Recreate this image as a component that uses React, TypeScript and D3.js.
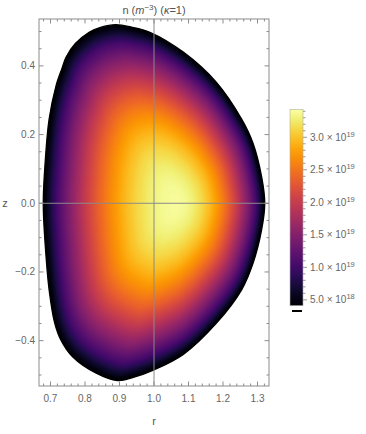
import React, { useRef, useEffect } from "react";
import * as d3 from "d3";

// plasma boundary (r, z), counter-clockwise from outer midplane
const boundaryR = [
  1.321, 1.312, 1.287, 1.254, 1.181, 1.085, 0.988, 0.935, 0.889, 0.845, 0.812,
  0.772, 0.745, 0.733, 0.716, 0.696, 0.685, 0.679, 0.685, 0.696, 0.712, 0.73,
  0.764, 0.831, 0.894, 0.94, 1.0, 1.085, 1.181, 1.254, 1.287, 1.312,
];
const boundaryZ = [
  0, 0.077, 0.175, 0.245, 0.352, 0.44, 0.498, 0.513, 0.52, 0.512, 0.498, 0.465,
  0.425, 0.392, 0.342, 0.245, 0.126, 0, -0.126, -0.252, -0.348, -0.398, -0.447,
  -0.494, -0.516, -0.507, -0.485, -0.44, -0.349, -0.252, -0.175, -0.077,
];

// magnetic axis (peak of density)
const axisR = 1.065;
const axisZ = 0;

// density profile vs normalised radius
const rhoLevels = [0, 0.1, 0.2, 0.3, 0.4, 0.5, 0.6, 0.7, 0.8, 0.9, 0.95, 1.0];
const density = [
  3.4e19, 3.37e19, 3.28e19, 3.13e19, 2.92e19, 2.65e19, 2.33e19, 1.95e19,
  1.52e19, 1.05e19, 0.72e19, 0.41e19,
];

const xTicks = [0.7, 0.8, 0.9, 1.0, 1.1, 1.2, 1.3];
const yTicks = [-0.4, -0.2, 0.0, 0.2, 0.4];
const barTicks = [5.0e18, 1.0e19, 1.5e19, 2.0e19, 2.5e19, 3.0e19];
const barDomain = [4.1e18, 3.43e19];

const FONT = "'Liberation Sans', Arial, sans-serif";

const App = () => {
  const ref = useRef<SVGSVGElement>(null);

  useEffect(() => {
    const svg = d3.select(ref.current);
    svg.selectAll("*").remove();

    const left = 39,
      right = 269,
      top = 19,
      bottom = 386;

    const x = d3.scaleLinear().domain([0.6667, 1.3333]).range([left, right]);
    const y = d3.scaleLinear().domain([-0.532, 0.5365]).range([bottom, top]);
    const nOfRho = d3.scaleLinear().domain(rhoLevels).range(density);
    const color = d3.scaleSequential(d3.interpolateInferno).domain(barDomain);

    const line = d3
      .line<[number, number]>()
      .x((d) => x(d[0]))
      .y((d) => y(d[1]))
      .curve(d3.curveCatmullRomClosed.alpha(0.5));

    const surface = (rho: number) =>
      boundaryR.map(
        (r, i) =>
          [axisR + rho * (r - axisR), axisZ + rho * (boundaryZ[i] - axisZ)] as [
            number,
            number
          ]
      );

    // nested flux surfaces, outer to inner
    const steps = 160;
    const g = svg.append("g");
    for (let k = steps; k >= 1; k--) {
      const rho = k / steps;
      g.append("path")
        .attr("d", line(surface(rho)))
        .attr("fill", color(nOfRho(rho)))
        .attr("stroke", "none");
    }
    g.append("path")
      .attr("d", line(surface(1)))
      .attr("fill", "none")
      .attr("stroke", "#000")
      .attr("stroke-width", 1.3);

    // reference lines
    svg
      .append("line")
      .attr("x1", left)
      .attr("x2", right)
      .attr("y1", y(0))
      .attr("y2", y(0))
      .attr("stroke", "#8a8a8a")
      .attr("stroke-width", 1);
    svg
      .append("line")
      .attr("x1", x(1))
      .attr("x2", x(1))
      .attr("y1", top)
      .attr("y2", bottom)
      .attr("stroke", "#8a8a8a")
      .attr("stroke-width", 1);

    // frame
    const frameColor = "#8c8c8c";
    svg
      .append("rect")
      .attr("x", left)
      .attr("y", top)
      .attr("width", right - left)
      .attr("height", bottom - top)
      .attr("fill", "none")
      .attr("stroke", frameColor)
      .attr("stroke-width", 1);

    const ticks = svg.append("g").attr("stroke", frameColor).attr("stroke-width", 1);
    const xMinor = d3.range(34, 67).map((v) => v * 0.02);
    xMinor.forEach((v) => {
      if (v < 0.667 || v > 1.333) return;
      const major = Math.abs(v * 10 - Math.round(v * 10)) < 1e-6;
      const len = major ? 4.5 : 2.5;
      const px = x(v);
      ticks.append("line").attr("x1", px).attr("x2", px).attr("y1", bottom).attr("y2", bottom - len);
      ticks.append("line").attr("x1", px).attr("x2", px).attr("y1", top).attr("y2", top + len);
    });
    const yMinor = d3.range(-10, 11).map((v) => v * 0.05);
    yMinor.forEach((v) => {
      if (v < -0.532 || v > 0.5365) return;
      const major = Math.abs(v * 5 - Math.round(v * 5)) < 1e-6;
      const len = major ? 4.5 : 2.5;
      const py = y(v);
      ticks.append("line").attr("x1", left).attr("x2", left + len).attr("y1", py).attr("y2", py);
      ticks.append("line").attr("x1", right).attr("x2", right - len).attr("y1", py).attr("y2", py);
    });

    const labelColor = "#666";
    svg
      .append("g")
      .selectAll("text")
      .data(xTicks)
      .enter()
      .append("text")
      .attr("x", (d) => x(d))
      .attr("y", bottom + 16)
      .attr("text-anchor", "middle")
      .attr("font-family", FONT)
      .attr("font-size", 10)
      .attr("fill", labelColor)
      .text((d) => d.toFixed(1));
    svg
      .append("g")
      .selectAll("text")
      .data(yTicks)
      .enter()
      .append("text")
      .attr("x", left - 4)
      .attr("y", (d) => y(d) + 3.5)
      .attr("text-anchor", "end")
      .attr("font-family", FONT)
      .attr("font-size", 10)
      .attr("fill", labelColor)
      .text((d) => (d < 0 ? "\u2212" + Math.abs(d).toFixed(1) : d.toFixed(1)));

    // axis labels
    svg
      .append("text")
      .attr("x", x(1))
      .attr("y", 425)
      .attr("text-anchor", "middle")
      .attr("font-family", FONT)
      .attr("font-size", 11)
      .attr("fill", "#555")
      .text("r");
    svg
      .append("text")
      .attr("x", 5)
      .attr("y", y(0) + 4)
      .attr("text-anchor", "middle")
      .attr("font-family", FONT)
      .attr("font-size", 11)
      .attr("fill", "#555")
      .text("z");

    // title
    const title = svg
      .append("text")
      .attr("x", x(1))
      .attr("y", 14)
      .attr("text-anchor", "middle")
      .attr("font-family", FONT)
      .attr("font-size", 11)
      .attr("fill", "#555");
    title.append("tspan").text("n (");
    title.append("tspan").attr("font-style", "italic").text("m");
    title.append("tspan").attr("font-size", 8).attr("dy", -4).text("\u22123");
    title.append("tspan").attr("dy", 4).text(") (");
    title.append("tspan").attr("font-style", "italic").text("\u03ba");
    title.append("tspan").text("=1)");

    // colour bar
    const bx = 290,
      bw = 13,
      by0 = 109.3,
      by1 = 305.7;
    const yb = d3.scaleLinear().domain(barDomain).range([by1, by0]);
    const defs = svg.append("defs");
    const grad = defs
      .append("linearGradient")
      .attr("id", "cbar")
      .attr("x1", 0)
      .attr("x2", 0)
      .attr("y1", 1)
      .attr("y2", 0);
    d3.range(0, 21).forEach((i) => {
      const t = i / 20;
      grad
        .append("stop")
        .attr("offset", t)
        .attr("stop-color", color(barDomain[0] + t * (barDomain[1] - barDomain[0])));
    });
    svg
      .append("rect")
      .attr("x", bx)
      .attr("y", by0)
      .attr("width", bw)
      .attr("height", by1 - by0)
      .attr("fill", "url(#cbar)")
      .attr("stroke", "#b0b0b0")
      .attr("stroke-width", 0.6);

    const bt = svg.append("g").attr("stroke", "#999").attr("stroke-width", 1);
    d3.range(5, 35).forEach((m) => {
      const v = m * 1e18;
      const major = m % 5 === 0;
      bt.append("line")
        .attr("x1", bx + bw)
        .attr("x2", bx + bw + (major ? 4 : 2.5))
        .attr("y1", yb(v))
        .attr("y2", yb(v));
    });
    barTicks.forEach((v) => {
      const exp = Math.floor(Math.log10(v));
      const mant = v / Math.pow(10, exp);
      const t = svg
        .append("text")
        .attr("x", bx + bw + 7)
        .attr("y", yb(v) + 3.5)
        .attr("font-family", FONT)
        .attr("font-size", 10)
        .attr("fill", labelColor);
      t.append("tspan").text(mant.toFixed(1) + " \u00d7 10");
      t.append("tspan").attr("font-size", 7.5).attr("dy", -4).text(String(exp));
    });
    svg
      .append("line")
      .attr("x1", bx + 2)
      .attr("x2", bx + bw - 1)
      .attr("y1", 311)
      .attr("y2", 311)
      .attr("stroke", "#000")
      .attr("stroke-width", 2);

    return () => {
      svg.selectAll("*").remove();
    };
  }, []);

  return (
    <svg
      ref={ref}
      width={366}
      height={434}
      style={{ position: "absolute", left: 0, top: 0, background: "#fff" }}
    />
  );
};

export default App;
